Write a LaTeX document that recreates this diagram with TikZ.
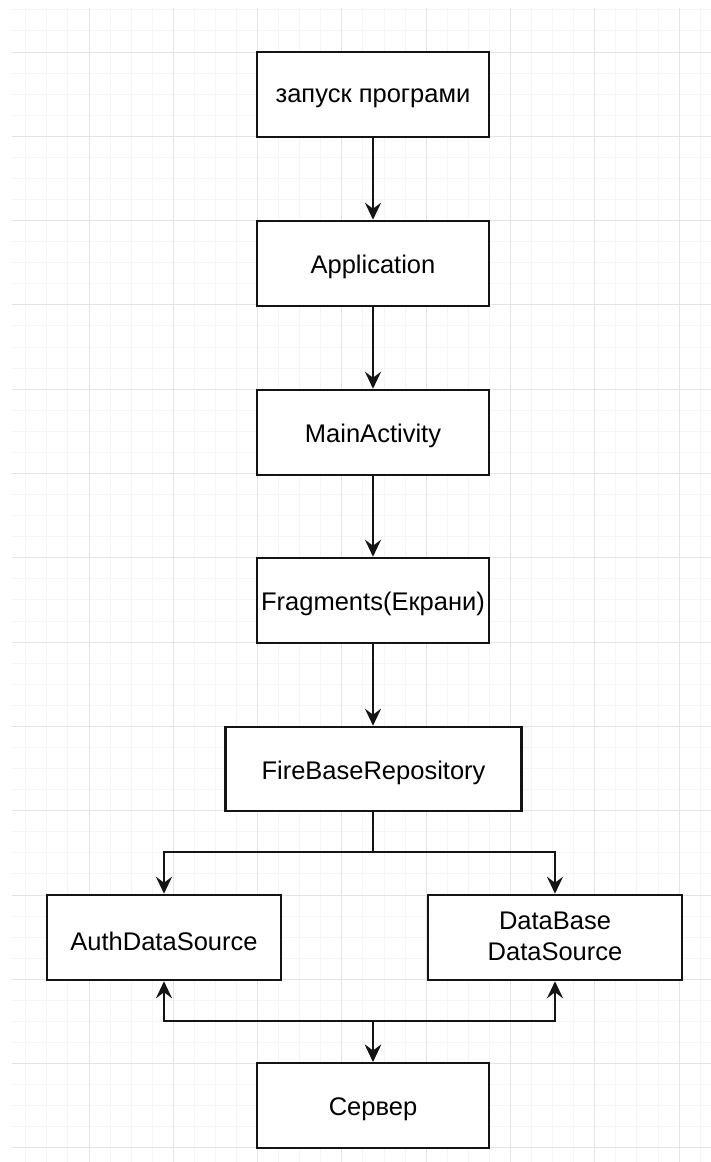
\documentclass[tikz,border=0pt]{standalone}
\usepackage{fontspec}
\setmainfont{Liberation Sans}
\usetikzlibrary{arrows.meta}
\definecolor{gridminor}{RGB}{245,245,245}
\definecolor{gridmajor}{RGB}{228,228,228}
\definecolor{ink}{RGB}{20,20,20}
\newcommand{\lowtext}[1]{\raisebox{-3.5pt}[\height][\depth]{#1}}
\begin{document}
\begin{tikzpicture}[x=1pt,y=-1pt,
  box/.style={draw=ink, line width=2.5pt, fill=white, inner sep=0pt,
    font=\fontsize{25.5}{30.5}\selectfont, align=center},
  conn/.style={line width=2.5pt, draw=ink},
  tip/.style={-{Stealth[length=17pt,width=16pt,inset=6pt]}},
  bothtip/.style={{Stealth[length=17pt,width=16pt,inset=6pt]}-{Stealth[length=17pt,width=16pt,inset=6pt]}}]
\fill[white] (0,0) rectangle (711,1162);
\useasboundingbox (0,0) rectangle (711,1162);
% grid
\begin{scope}
\clip (12,8) rectangle (711,1162);
\foreach \i in {-8,...,40} {
  \draw[gridminor, line width=1pt] ({89+\i*21.075},0) -- ({89+\i*21.075},1162);
}
\foreach \i in {-4,...,60} {
  \draw[gridminor, line width=1pt] (0,{52+\i*21.075}) -- (711,{52+\i*21.075});
}
\foreach \i in {-2,...,10} {
  \draw[gridmajor, line width=1pt] ({89+\i*84.3},0) -- ({89+\i*84.3},1162);
}
\foreach \i in {-1,...,15} {
  \draw[gridmajor, line width=1pt] (0,{52+\i*84.3}) -- (711,{52+\i*84.3});
}
\end{scope}
% nodes
\node[box, minimum width=232pt, minimum height=85pt] (start) at (373,94.5) {\lowtext{запуск програми}};
\node[box, minimum width=232pt, minimum height=85pt] (app) at (373,263.5) {\lowtext{Application}};
\node[box, minimum width=232pt, minimum height=85pt] (main) at (373,432.5) {\lowtext{MainActivity}};
\node[box, minimum width=232pt, minimum height=85pt] (frag) at (373,600.5) {\lowtext{Fragments(Екрани)}};
\node[box, minimum width=296pt, minimum height=84pt] (repo) at (373.5,769) {\lowtext{FireBaseRepository}};
\node[box, minimum width=234pt, minimum height=85pt] (auth) at (164,937.5) {\lowtext{AuthDataSource}};
\node[box, minimum width=254pt, minimum height=85pt] (db) at (555,937.5) {\raisebox{-1.5pt}[\height][\depth]{\begin{tabular}{@{}c@{}}DataBase\\DataSource\end{tabular}}};
\node[box, minimum width=232pt, minimum height=85pt] (srv) at (373,1105.5) {\lowtext{Сервер}};
\coordinate (split) at (373,852);
\coordinate (join) at (373,1021);
% connectors
\draw[conn, tip] (start) -- (app);
\draw[conn, tip] (app) -- (main);
\draw[conn, tip] (main) -- (frag);
\draw[conn, tip] (frag.south) -- (frag.south |- repo.north);
\draw[conn, tip] (split |- repo.south) -- (split) -| (auth.north);
\draw[conn, tip] (split |- repo.south) -- (split) -| (db.north);
\draw[conn, bothtip] (auth.south) |- (join) -- (srv.north);
\draw[conn, bothtip] (db.south) |- (join) -- (srv.north);
\end{tikzpicture}
\end{document}
